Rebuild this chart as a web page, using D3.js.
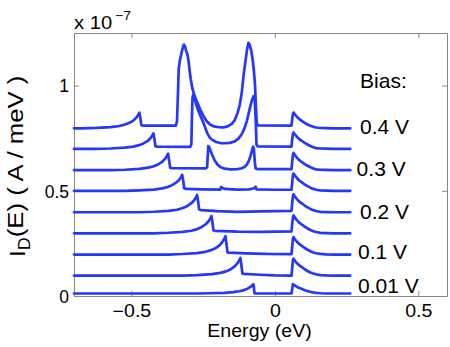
<!DOCTYPE html>
<html>
<head>
<meta charset="utf-8">
<script src="https://cdn.jsdelivr.net/npm/d3@7"></script>
<style>
  body { margin: 0; background: #fff; }
  text { font-family: "Liberation Sans", Arial, sans-serif; fill: #000; }
</style>
</head>
<body>
<div id="chart"></div>
<script>
// ---------------------------------------------------------------------//
//   Energy resolved current I_D(E) for several bias values              //
//   energy in eV, current in units of 1e-7 A/meV (offsets included)     //
// ---------------------------------------------------------------------//

var c001 = [[-0.70,0.012],[-0.275,0.012],[-0.225,0.013],[-0.175,0.0145],[-0.145,0.0185],[-0.125,0.0225],
  [-0.11,0.027],[-0.095,0.035],[-0.085,0.043],[-0.079,0.050],[-0.075,0.056],[-0.073,0.040],[-0.071,0.014],
  [-0.068,0.012],[0.058,0.012],[0.060,0.030],[0.063,0.056],[0.068,0.052],[0.075,0.045],[0.083,0.039],
  [0.093,0.034],[0.103,0.029],[0.113,0.024],[0.123,0.020],[0.133,0.017],[0.143,0.015],[0.160,0.013],
  [0.180,0.012],[0.263,0.012]];

var c005 = [[-0.70,0.097],[-0.32,0.097],[-0.27,0.0995],[-0.22,0.104],[-0.19,0.110],[-0.17,0.117],
  [-0.155,0.126],[-0.14,0.141],[-0.13,0.156],[-0.124,0.170],[-0.12,0.181],[-0.116,0.140],[-0.113,0.107],
  [-0.108,0.105],[-0.05,0.101],[0.0,0.098],[0.058,0.097],[0.060,0.125],[0.063,0.170],[0.065,0.177],
  [0.069,0.169],[0.076,0.157],[0.084,0.147],[0.094,0.137],[0.104,0.127],[0.114,0.119],[0.124,0.112],
  [0.134,0.107],[0.144,0.103],[0.159,0.0995],[0.179,0.098],[0.204,0.097],[0.263,0.097]];

var c010 = [[-0.70,0.197],[-0.372,0.197],[-0.322,0.1996],[-0.272,0.204],[-0.242,0.210],[-0.222,0.218],
  [-0.207,0.227],[-0.192,0.242],[-0.182,0.258],[-0.176,0.273],[-0.172,0.284],[-0.168,0.240],[-0.165,0.208],
  [-0.16,0.206],[-0.10,0.203],[-0.03,0.200],[0.058,0.199],[0.060,0.227],[0.063,0.272],[0.065,0.280],
  [0.069,0.272],[0.076,0.259],[0.084,0.248],[0.094,0.238],[0.104,0.228],[0.114,0.220],[0.124,0.213],
  [0.134,0.207],[0.144,0.203],[0.159,0.200],[0.179,0.198],[0.204,0.197],[0.263,0.197]];

var c015 = [[-0.70,0.298],[-0.421,0.298],[-0.371,0.3005],[-0.321,0.3046],[-0.291,0.310],[-0.271,0.318],
  [-0.256,0.327],[-0.241,0.341],[-0.231,0.355],[-0.225,0.369],[-0.221,0.380],[-0.217,0.345],[-0.214,0.312],
  [-0.208,0.310],[-0.13,0.306],[-0.05,0.305],[0.058,0.307],[0.060,0.335],[0.063,0.375],[0.065,0.383],
  [0.069,0.375],[0.076,0.362],[0.084,0.350],[0.094,0.340],[0.104,0.330],[0.114,0.321],[0.124,0.314],
  [0.134,0.308],[0.144,0.304],[0.159,0.300],[0.179,0.299],[0.204,0.298],[0.263,0.298]];

var c020 = [[-0.70,0.398],[-0.471,0.398],[-0.421,0.4005],[-0.371,0.4046],[-0.341,0.410],[-0.321,0.418],
  [-0.306,0.427],[-0.291,0.441],[-0.281,0.455],[-0.275,0.469],[-0.271,0.480],[-0.267,0.445],[-0.264,0.412],
  [-0.258,0.408],[-0.20,0.403],[-0.13,0.400],[-0.05,0.402],[0.058,0.405],[0.060,0.433],[0.063,0.475],
  [0.065,0.483],[0.069,0.475],[0.076,0.462],[0.084,0.450],[0.094,0.440],[0.104,0.430],[0.114,0.421],
  [0.124,0.414],[0.134,0.408],[0.144,0.404],[0.159,0.400],[0.179,0.399],[0.204,0.398],[0.263,0.398]];

var c025 = [[-0.70,0.500],[-0.523,0.500],[-0.473,0.5023],[-0.423,0.506],[-0.393,0.5114],[-0.373,0.518],
  [-0.358,0.527],[-0.343,0.540],[-0.333,0.553],[-0.327,0.566],[-0.323,0.576],[-0.319,0.545],[-0.316,0.512],
  [-0.31,0.509],[-0.25,0.507],[-0.19,0.506],[-0.187,0.518],[-0.183,0.514],[-0.175,0.509],[-0.13,0.506],
  [-0.09,0.507],[-0.072,0.512],[-0.067,0.519],[-0.064,0.507],[0.0,0.505],[0.058,0.505],[0.060,0.533],
  [0.063,0.575],[0.065,0.582],[0.069,0.575],[0.076,0.562],[0.084,0.550],[0.094,0.540],[0.104,0.530],
  [0.114,0.522],[0.124,0.515],[0.134,0.509],[0.144,0.505],[0.159,0.502],[0.179,0.501],[0.204,0.500],
  [0.263,0.500]];

var c030 = [[-0.70,0.598],[-0.572,0.598],[-0.522,0.600],[-0.472,0.604],[-0.442,0.610],[-0.422,0.617],
  [-0.407,0.625],[-0.392,0.639],[-0.382,0.653],[-0.376,0.666],[-0.372,0.676],[-0.368,0.640],[-0.365,0.610],
  [-0.36,0.608],[-0.24,0.607],[-0.236,0.612],[-0.234,0.660],[-0.232,0.712],[-0.228,0.705],[-0.224,0.690],
  [-0.218,0.670],[-0.21,0.645],[-0.20,0.625],[-0.19,0.613],[-0.175,0.605],[-0.155,0.602],[-0.13,0.603],
  [-0.115,0.607],[-0.105,0.614],[-0.097,0.626],[-0.09,0.645],[-0.085,0.665],[-0.08,0.690],[-0.076,0.710],
  [-0.073,0.700],[-0.070,0.640],[-0.067,0.606],[-0.06,0.603],[0.058,0.603],[0.060,0.631],[0.063,0.672],
  [0.065,0.680],[0.069,0.672],[0.076,0.659],[0.084,0.647],[0.094,0.637],[0.104,0.627],[0.114,0.619],
  [0.124,0.612],[0.134,0.606],[0.144,0.602],[0.159,0.600],[0.179,0.599],[0.204,0.598],[0.263,0.598]];

var c035 = [[-0.70,0.699],[-0.623,0.699],[-0.573,0.701],[-0.523,0.705],[-0.493,0.710],[-0.473,0.717],
  [-0.458,0.725],[-0.443,0.737],[-0.433,0.751],[-0.427,0.763],[-0.423,0.773],[-0.419,0.740],[-0.416,0.712],
  [-0.41,0.710],[-0.295,0.709],[-0.291,0.720],[-0.289,0.850],[-0.287,0.940],[-0.285,0.955],[-0.281,0.945],
  [-0.275,0.915],[-0.268,0.885],[-0.26,0.858],[-0.252,0.833],[-0.244,0.805],[-0.236,0.775],[-0.228,0.755],
  [-0.218,0.742],[-0.205,0.732],[-0.19,0.727],[-0.175,0.726],[-0.155,0.728],[-0.14,0.735],[-0.127,0.748],
  [-0.115,0.770],[-0.105,0.800],[-0.097,0.835],[-0.09,0.875],[-0.084,0.910],[-0.079,0.935],[-0.074,0.950],
  [-0.070,0.930],[-0.067,0.850],[-0.064,0.720],[-0.06,0.711],[0.058,0.710],[0.060,0.738],[0.063,0.770],
  [0.065,0.777],[0.069,0.770],[0.076,0.758],[0.084,0.747],[0.094,0.737],[0.104,0.728],[0.114,0.720],
  [0.124,0.713],[0.134,0.707],[0.144,0.703],[0.159,0.701],[0.179,0.700],[0.204,0.699],[0.263,0.699]];

var c040 = [[-0.70,0.797],[-0.672,0.797],[-0.622,0.799],[-0.572,0.803],[-0.542,0.808],[-0.522,0.815],
  [-0.507,0.823],[-0.492,0.835],[-0.482,0.849],[-0.476,0.861],[-0.472,0.871],[-0.468,0.840],[-0.465,0.812],
  [-0.46,0.810],[-0.345,0.810],[-0.341,0.830],[-0.338,0.950],[-0.335,1.080],[-0.331,1.120],[-0.326,1.150],
  [-0.321,1.180],[-0.317,1.195],[-0.313,1.185],[-0.309,1.165],[-0.305,1.150],[-0.301,1.120],[-0.297,1.070],
  [-0.293,1.030],[-0.288,0.990],[-0.281,0.955],[-0.271,0.922],[-0.26,0.886],[-0.249,0.855],[-0.238,0.832],
  [-0.226,0.815],[-0.212,0.806],[-0.195,0.802],[-0.18,0.801],[-0.165,0.806],[-0.15,0.818],[-0.14,0.835],
  [-0.13,0.870],[-0.122,0.910],[-0.115,0.970],[-0.108,1.060],[-0.102,1.120],[-0.097,1.170],[-0.092,1.203],
  [-0.088,1.195],[-0.083,1.170],[-0.078,1.130],[-0.073,1.070],[-0.069,1.000],[-0.066,0.900],[-0.063,0.820],
  [-0.058,0.811],[0.058,0.810],[0.060,0.838],[0.063,0.865],[0.065,0.872],[0.069,0.865],[0.076,0.853],
  [0.084,0.842],[0.094,0.832],[0.104,0.823],[0.114,0.815],[0.124,0.809],[0.134,0.804],[0.144,0.801],
  [0.159,0.799],[0.179,0.798],[0.204,0.797],[0.263,0.797]];

var curves = [c001, c005, c010, c015, c020, c025, c030, c035, c040];

// bias labels on the right and where they sit (data units of the y axis)
var biasText = ["Bias:", "0.4 V", "0.3 V", "0.2 V", "0.1 V", "0.01 V"];
var biasX = [0.297, 0.297, 0.285, 0.297, 0.290, 0.290];
var biasY = [0.99, 0.768, 0.57, 0.366, 0.176, 0.016];

var xTicks = [-0.5, 0, 0.5];
var yTicks = [0, 0.5, 1];

// ---------------------------------------------------------------------//
//                              Layout                                  //
// ---------------------------------------------------------------------//

var W = 450, H = 347;
var padL = 74, padR = 447, padT = 33, padB = 296;
var sx = 1.12; // the reference glyphs are a bit wider than Helvetica

var svg = d3.select("#chart").append("svg")
  .attr("width", W)
  .attr("height", H);

var x = d3.scaleLinear().domain([-0.7, 0.6]).range([padL, padR]);
var y = d3.scaleLinear().domain([0, 1.25]).range([padB, padT]);

var fmt = function(d) { return d === 0 ? "0" : (d === 1 ? "1" : d3.format(".1f")(d)); };
var axisColor = "#868686";

// bottom axis with labels
var gx = svg.append("g")
  .attr("transform", "translate(0," + padB + ")")
  .call(d3.axisBottom(x).tickValues(xTicks).tickFormat(fmt).tickSize(-5).tickSizeOuter(0).tickPadding(9));

// left axis with labels
var gy = svg.append("g")
  .attr("transform", "translate(" + padL + ",0)")
  .call(d3.axisLeft(y).tickValues(yTicks).tickFormat(fmt).tickSize(-5).tickSizeOuter(0).tickPadding(5));

// top and right: ticks only (box)
var gt = svg.append("g")
  .attr("transform", "translate(0," + padT + ")")
  .call(d3.axisTop(x).tickValues(xTicks).tickFormat("").tickSize(-5).tickSizeOuter(0));
var gr = svg.append("g")
  .attr("transform", "translate(" + padR + ",0)")
  .call(d3.axisRight(y).tickValues(yTicks).tickFormat("").tickSize(-5).tickSizeOuter(0));

[gx, gy, gt, gr].forEach(function(g) {
  g.select(".domain").attr("stroke", axisColor).attr("stroke-width", 1);
  g.selectAll(".tick line").attr("stroke", axisColor);
  g.selectAll(".tick text")
    .attr("fill", "#000")
    .style("font-family", "'Liberation Sans', Arial, sans-serif")
    .style("font-size", "17.5px");
});
gx.selectAll(".tick text").attr("transform", "scale(" + sx + ",1)");
gy.selectAll(".tick text").attr("dy", "0.36em");

// ---------------------------------------------------------------------//
//                              Curves                                  //
// ---------------------------------------------------------------------//

var line = d3.line()
  .x(function(d) { return x(d[0]); })
  .y(function(d) { return y(d[1]); });

svg.append("g")
  .selectAll("path")
  .data(curves)
  .enter().append("path")
  .attr("d", line)
  .attr("fill", "none")
  .attr("stroke", "#2337ff")
  .attr("stroke-width", 2.7)
  .attr("stroke-linejoin", "round")
  .attr("stroke-linecap", "round");

// ---------------------------------------------------------------------//
//                              Texts                                   //
// ---------------------------------------------------------------------//

svg.append("g")
  .selectAll("text")
  .data(biasText)
  .enter().append("text")
  .attr("transform", function(d, i) {
    return "translate(" + x(biasX[i]) + "," + y(biasY[i]) + ") scale(1.05,1)";
  })
  .style("font-size", "20px")
  .text(function(d) { return d; });

// exponent above the axis
svg.append("text")
  .attr("transform", "translate(" + padL + ",29) scale(" + sx + ",1)")
  .style("font-size", "18px")
  .text("x 10");
svg.append("text")
  .attr("transform", "translate(115,20) scale(" + sx + ",1)")
  .style("font-size", "12.5px")
  .text("\u22127");

// x label
svg.append("text")
  .attr("transform", "translate(" + ((padL + padR) / 2 - 1) + ",337) scale(" + sx + ",1)")
  .attr("text-anchor", "middle")
  .style("font-size", "17.5px")
  .text("Energy (eV)");

// y label with subscript
var yl = svg.append("text")
  .attr("transform", "translate(25," + ((padT + padB) / 2 + 2) + ") rotate(-90) scale(" + sx + ",1)")
  .attr("text-anchor", "middle")
  .style("font-size", "23px");
yl.append("tspan").text("I");
yl.append("tspan").attr("dy", "0.3em").style("font-size", "16px").text("D");
yl.append("tspan").attr("dy", "-0.3em").text("(E) ( A / meV )");
</script>
</body>
</html>
